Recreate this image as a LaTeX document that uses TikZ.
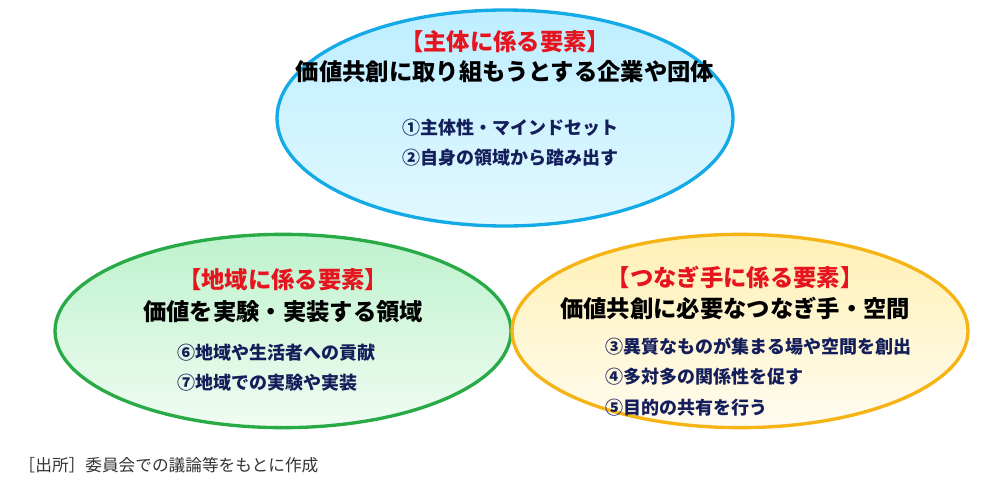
\documentclass[tikz,border=0pt]{standalone}
\usepackage{fontspec}
\setmainfont{Noto Sans CJK JP}
\usepackage{tikz}
\usetikzlibrary{shapes.geometric,positioning}
\definecolor{ringblue}{RGB}{20,170,230}
\definecolor{ringgreen}{RGB}{40,170,70}
\definecolor{ringorange}{RGB}{245,180,20}
\definecolor{headred}{RGB}{230,20,30}
\definecolor{itemnavy}{RGB}{20,30,90}
\begin{document}
\begin{tikzpicture}[x=0.75pt,y=-0.75pt,
  ring/.style={ellipse,line width=2.5pt,minimum width=#1},
  head/.style={font=\fontsize{17.5}{20}\selectfont\bfseries,text=headred},
  lead/.style={font=\fontsize{17.5}{20}\selectfont\bfseries},
  item/.style={font=\fontsize{13.5}{16}\selectfont\bfseries,text=itemnavy,anchor=west}]
\useasboundingbox (0,0) rectangle (1005,496);

\node[ring=342pt,minimum height=162pt,draw=ringblue,top color={rgb,255:red,190;green,238;blue,255},bottom color={rgb,255:red,225;green,248;blue,255}] (subj) at (505,118) {};
\node[ring=342pt,minimum height=145pt,draw=ringgreen,top color={rgb,255:red,190;green,242;blue,205},bottom color={rgb,255:red,240;green,252;blue,242}] (area) at (283,331) {};
\node[ring=342pt,minimum height=145pt,draw=ringorange,top color={rgb,255:red,255;green,240;blue,180},bottom color={rgb,255:red,255;green,252;blue,240}] (link) at (740,331) {};

\node[head] (subjh) at (505,42) {【主体に係る要素】};
\node[lead] (subjl) at (505,72) {価値共創に取り組もうとする企業や団体};
\node[item] (subj1) at (398,128) {①主体性・マインドセット};
\node[item] (subj2) at (398,158) {②自身の領域から踏み出す};

\node[head] (areah) at (283,280) {【地域に係る要素】};
\node[lead] (areal) at (283,312) {価値を実験・実装する領域};
\node[item] (area1) at (173,353) {⑥地域や生活者への貢献};
\node[item] (area2) at (173,383) {⑦地域での実験や実装};

\node[head] (linkh) at (735,277) {【つなぎ手に係る要素】};
\node[lead] (linkl) at (735,308) {価値共創に必要なつなぎ手・空間};
\node[item] (link1) at (601,346) {③異質なものが集まる場や空間を創出};
\node[item] (link2) at (601,377) {④多対多の関係性を促す};
\node[item] (link3) at (601,408) {⑤目的の共有を行う};

\node[anchor=west,font=\fontsize{12.5}{15}\selectfont,text=black!80] (src) at (14,465) {［出所］委員会での議論等をもとに作成};
\end{tikzpicture}
\end{document}
